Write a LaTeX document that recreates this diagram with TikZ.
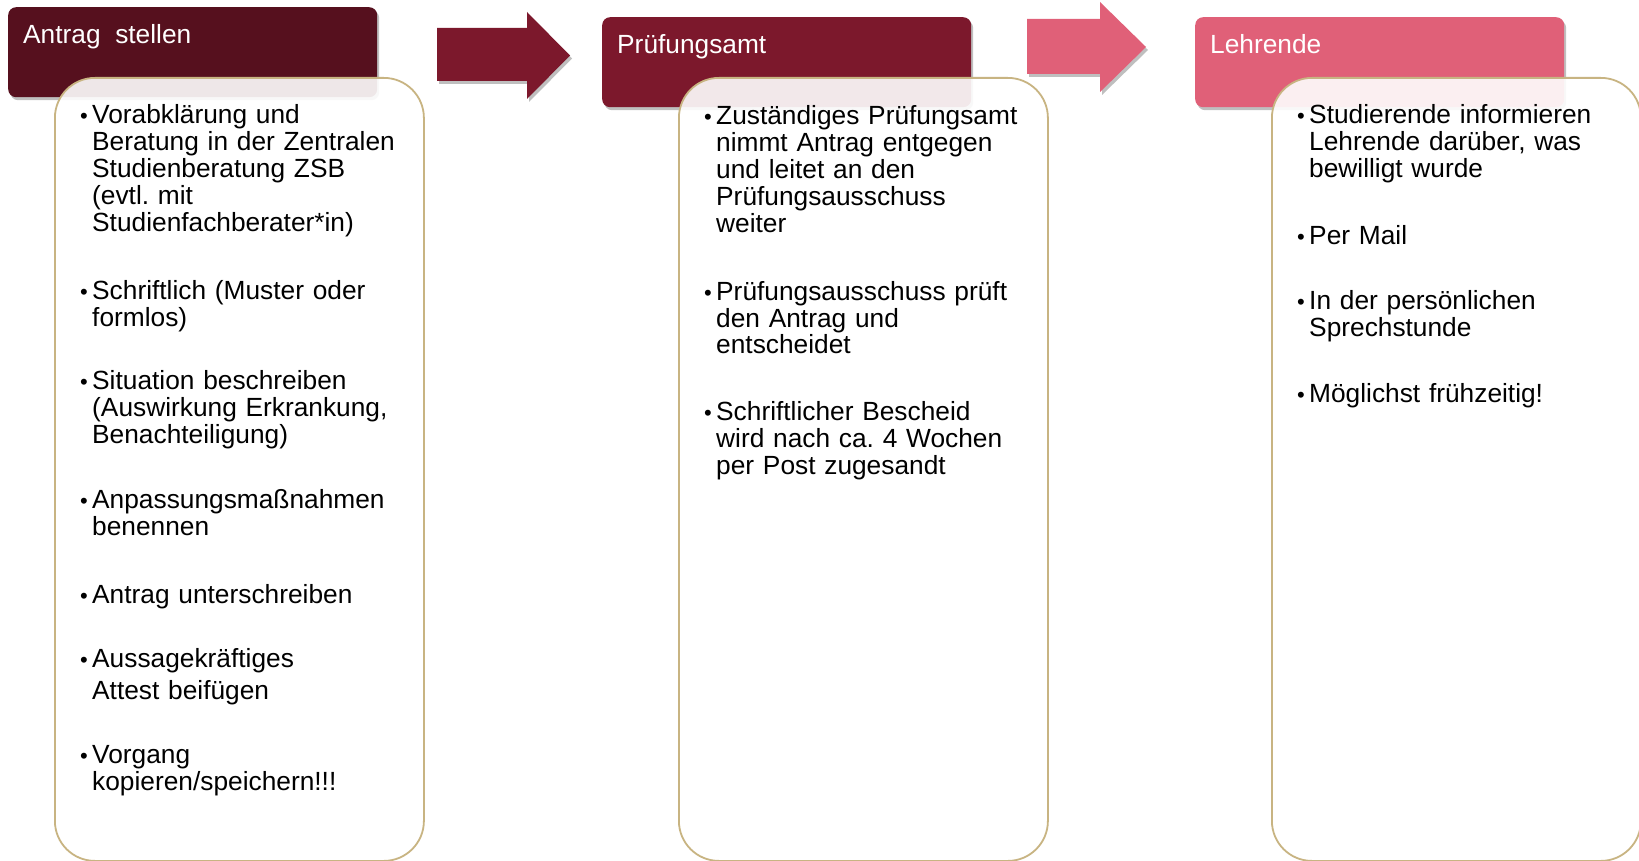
\documentclass[tikz,border=0pt]{standalone}
\usepackage{fontspec}
\setmainfont{Liberation Sans}
\usetikzlibrary{shadows}
\definecolor{hdrA}{RGB}{86,16,30}
\definecolor{hdrB}{RGB}{124,24,44}
\definecolor{hdrC}{RGB}{224,96,120}
\definecolor{rim}{RGB}{200,180,130}
\tikzset{
  hdr/.style={rectangle, rounded corners=8pt, draw=none, anchor=north west,
    minimum width=369pt, minimum height=90pt, inner sep=0pt,
    drop shadow={shadow xshift=2pt, shadow yshift=-3pt, opacity=0.25, fill=black}},
  hdrtext/.style={anchor=base west, inner sep=0pt, text=white, font=\fontsize{26.3}{27}\selectfont},
  cbox/.style={rectangle, rounded corners=40pt, draw=rim, line width=1.8pt,
    fill=white, fill opacity=0.9, anchor=north west,
    minimum width=369pt, minimum height=783pt, inner sep=0pt},
  item/.style={anchor=base west, inner sep=0pt, text width=340pt, align=left,
    font=\fontsize{26.3}{27}\selectfont\frenchspacing},
  dot/.style={anchor=base, inner sep=0pt, font=\fontsize{22}{27}\selectfont},
  blockarrow/.style={draw=none, drop shadow={shadow xshift=2pt, shadow yshift=-3pt, opacity=0.25, fill=black}}
}
\begin{document}
\frenchspacing
\begin{tikzpicture}[x=1pt,y=-1pt]
\useasboundingbox (0,0) rectangle (1639,861);
\fill[white] (0,0) rectangle (1639,861);

% headers
\node[hdr, fill=hdrA] (h1) at (8,7) {};
\node[hdr, fill=hdrB] (h2) at (602,17) {};
\node[hdr, fill=hdrC] (h3) at (1195,17) {};
\node[hdrtext] (h1t) at (23,44) {Antrag~ stellen};
\node[hdrtext] (h2t) at (617,54) {Prüfungsamt};
\node[hdrtext] (h3t) at (1210,54) {Lehrende};

% block arrows
\fill[hdrB, blockarrow] (437,28) -- (527,28) -- (527,12) -- (570,55.5) -- (527,99) -- (527,81) -- (437,81) -- cycle;
\fill[hdrC, blockarrow] (1027,19) -- (1100,19) -- (1100,2) -- (1146,47) -- (1100,92) -- (1100,74) -- (1027,74) -- cycle;

% content boxes
\node[cbox] (k1) at (54,77) {};
\node[cbox] (k2) at (678,77) {};
\node[cbox] (k3) at (1271,77) {};

% column 1
\node[dot] (d11) at (84,124) {•};
\node[item] (i11) at (92,124) {Vorabklärung und\\Beratung in der Zentralen\\Studienberatung ZSB\\(evtl. mit\\Studienfachberater*in)};
\node[dot] (d12) at (84,299) {•};
\node[item] (i12) at (92,299) {Schriftlich (Muster oder\\formlos)};
\node[dot] (d13) at (84,389) {•};
\node[item] (i13) at (92,389) {Situation beschreiben\\(Auswirkung Erkrankung,\\Benachteiligung)};
\node[dot] (d14) at (84,508) {•};
\node[item] (i14) at (92,508) {Anpassungsmaßnahmen\\benennen};
\node[dot] (d15) at (84,603) {•};
\node[item] (i15) at (92,603) {Antrag unterschreiben};
\node[dot] (d16) at (84,667) {•};
\node[item] (i16) at (92,667) {Aussagekräftiges\\[5pt]Attest beifügen};
\node[dot] (d17) at (84,763) {•};
\node[item] (i17) at (92,763) {Vorgang\\kopieren/speichern!!!};

% column 2
\node[dot] (d21) at (708,125) {•};
\node[item] (i21) at (716,125) {Zuständiges Prüfungsamt\\nimmt Antrag entgegen\\und leitet an den\\Prüfungsausschuss\\weiter};
\node[dot] (d22) at (708,300) {•};
\node[item] (i22) at (716,300) {Prüfungsausschuss prüft\\den Antrag und\\entscheidet};
\node[dot] (d23) at (708,420) {•};
\node[item] (i23) at (716,420) {Schriftlicher Bescheid\\wird nach ca. 4 Wochen\\per Post zugesandt};

% column 3
\node[dot] (d31) at (1301,124) {•};
\node[item] (i31) at (1309,124) {Studierende informieren\\Lehrende darüber, was\\bewilligt wurde};
\node[dot] (d32) at (1301,244) {•};
\node[item] (i32) at (1309,244) {Per Mail};
\node[dot] (d33) at (1301,309) {•};
\node[item] (i33) at (1309,309) {In der persönlichen\\Sprechstunde};
\node[dot] (d34) at (1301,402) {•};
\node[item] (i34) at (1309,402) {Möglichst frühzeitig!};
\end{tikzpicture}
\end{document}
